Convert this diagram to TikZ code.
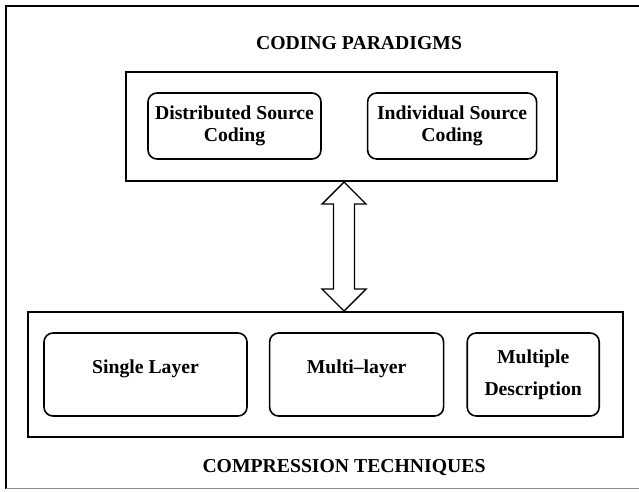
\documentclass[tikz,border=0pt]{standalone}
\usepackage{fontspec}
\setmainfont{Liberation Serif}
\usetikzlibrary{positioning,calc}
\tikzset{
  % frame
	cstframe/.style      ={line width=2pt},
	cstframeb/.style     ={line width=1pt, draw=black!45},
  % node
	cstgroup/.style      ={draw=black,line width=2pt,inner sep=0pt},
	cstbox/.style        ={draw=black,align=center,rounded corners=9pt,line width=1.6pt,inner sep=2pt},
	cstboxup/.style      ={cstbox,text height=13.5pt,text depth=15.5pt},
	csttitle/.style      ={inner sep=0pt},
  % arrow
	cstdblarrow/.style   ={line width=1.4pt,fill=white,line join=miter}
}
\begin{document}
\begin{tikzpicture}[x=1pt,y=-1pt,font=\fontsize{19.7}{22}\selectfont\bfseries]
	\useasboundingbox (0,0) rectangle (639,491);
	% outer frame
	\draw[cstframe] (639,6) -- (6,6) -- (6,488.5);
	\draw[cstframeb] (6,488.5) -- (639,488.5);
	% coding paradigms
	\node[csttitle] (paratitle) at (359,43) {CODING PARADIGMS};
	\node[cstgroup,minimum width=431pt,minimum height=109pt] (para) at (341.5,126.5) {};
	\node[cstbox,minimum width=173pt,minimum height=66pt] (dsc) at (234.5,126) {Distributed Source\\Coding};
	\node[cstbox,minimum width=169pt,minimum height=66pt,right=45pt of dsc] (isc) {Individual Source\\Coding};
	% compression techniques
	\node[cstgroup,minimum width=595pt,minimum height=125pt] (comp) at (325.5,374.5) {};
	\node[csttitle] (comptitle) at (344,468) {COMPRESSION TECHNIQUES};
	\node[cstboxup,minimum width=203pt,minimum height=83pt] (single) at (145.5,374.5) {Single Layer};
	\node[cstboxup,minimum width=174pt,minimum height=83pt,right=21pt of single] (multi) {Multi--layer};
	\node[cstbox,minimum width=132pt,minimum height=83pt,right=22pt of multi] (mdc) {Multiple\\[10pt]Description};
	% double arrow
	\coordinate (tipT) at ([xshift=2.5pt]para.south);
	\coordinate (tipB) at (tipT |- comp.north);
	\draw[cstdblarrow] (tipT) -- ++(22,22) -- ++(-11.5,0) -- ($(tipB)+(10.5,-22)$) -- ++(11.5,0)
		-- (tipB) -- ++(-22,-22) -- ++(11.5,0) -- ($(tipT)+(-10.5,22)$) -- ++(-11.5,0) -- cycle;
\end{tikzpicture}
\end{document}
